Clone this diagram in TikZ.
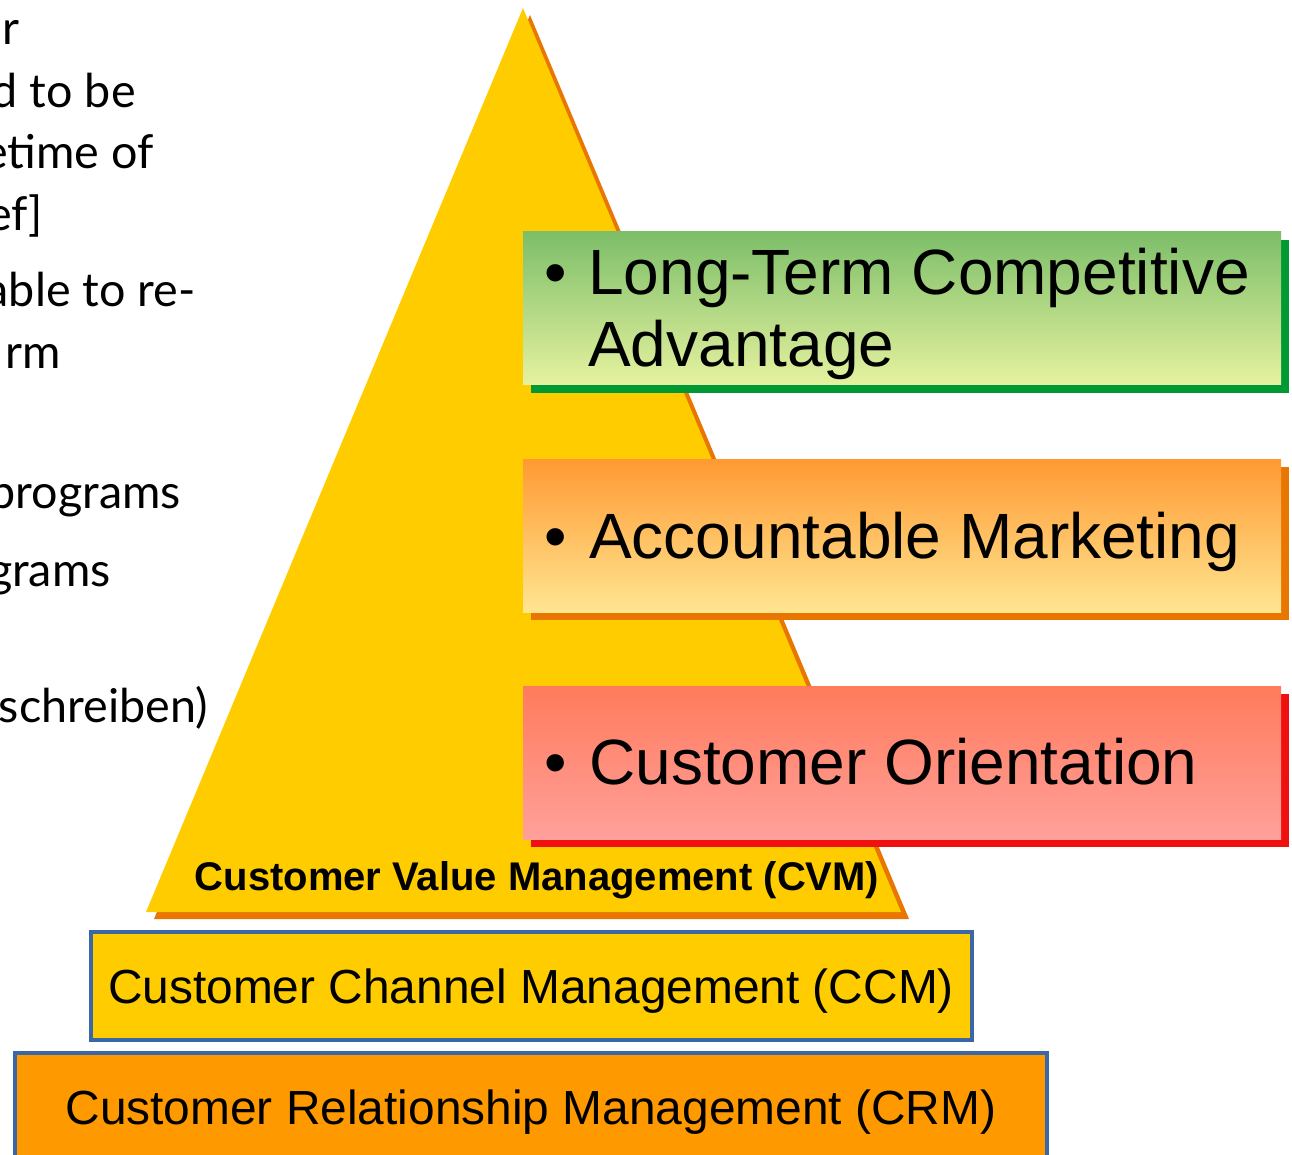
\documentclass[tikz,border=0pt]{standalone}
\usepackage{fontspec}
\setmainfont{Liberation Sans}
\newfontfamily\latofont{Lato}
\definecolor{cvmyellow}{HTML}{FFCC00}
\definecolor{cvmshadow}{HTML}{E87600}
\definecolor{gtop}{HTML}{7DBE69}
\definecolor{gbot}{HTML}{E6F2A0}
\definecolor{gshadow}{HTML}{009933}
\definecolor{otop}{HTML}{FF9933}
\definecolor{obot}{HTML}{FFE691}
\definecolor{oshadow}{HTML}{E87600}
\definecolor{rtop}{HTML}{FF7B5C}
\definecolor{rbot}{HTML}{FFA09B}
\definecolor{rshadow}{HTML}{F01010}
\definecolor{crmorange}{HTML}{FF9900}
\definecolor{bordblue}{HTML}{3B67A7}
\begin{document}
\begin{tikzpicture}[x=0.75pt,y=-0.75pt,
  panel/.style={minimum width=758*0.75pt, minimum height=153*0.75pt, inner sep=0pt, outer sep=0pt, anchor=north west},
  bigtxt/.style={font=\fontsize{48pt}{54pt}\selectfont, inner sep=0pt, anchor=base west},
  layertxt/.style={font=\fontsize{35.9pt}{42pt}\selectfont, inner sep=0pt, anchor=base},
  lefttxt/.style={font=\latofont\fontsize{35pt}{41pt}\selectfont, inner sep=0pt, anchor=base east},
  layerbox/.style={draw=bordblue, line width=2.4pt, inner sep=0pt, outer sep=0pt, anchor=north west}]
\useasboundingbox (0,0) rectangle (1292,1155);
\clip (0,0) rectangle (1292,1155);
\fill[white] (0,0) rectangle (1292,1155);

% left text fragments
\node[lefttxt] (l1) at (20,45) {r};
\node[lefttxt] (l2) at (136,108) {d to be};
\node[lefttxt] (l3) at (154,169) {etime of};
\node[lefttxt] (l4) at (43,231) {ef]};
\node[lefttxt] (l5) at (196,307) {able to re-};
\node[lefttxt] (l6) at (61,369) {rm};
\node[lefttxt] (l7) at (181,508) {programs};
\node[lefttxt] (l8) at (111,586) {grams};
\node[lefttxt] (l9) at (208,722) {schreiben)};

% pyramid
\fill[cvmshadow] (530,15) -- (154,919) -- (909,919) -- cycle;
\fill[cvmyellow] (523,8) -- (146,912) -- (901,912) -- cycle;
\node[font=\bfseries\fontsize{30pt}{36pt}\selectfont, inner sep=0pt, anchor=base] (cvm) at (537,890) {Customer Value Management (CVM)};

% green panel
\fill[gshadow] (531,240) rectangle (1289,393);
\node[panel, top color=gtop, bottom color=gbot] (gbox) at (523,232) {};
\node[bigtxt] (gbul) at (544,295) {•};
\node[bigtxt] (gt1) at (588,295) {Long-Term Competitive};
\node[bigtxt] (gt2) at (588,367) {Advantage};

% orange panel
\fill[oshadow] (531,467) rectangle (1289,620);
\node[panel, top color=otop, bottom color=obot] (obox) at (523,459) {};
\node[bigtxt] (obul) at (544,558) {•};
\node[bigtxt] (ot) at (589,558) {Accountable Marketing};

% red panel
\fill[rshadow] (531,694) rectangle (1289,847);
\node[panel, top color=rtop, bottom color=rbot] (rbox) at (523,686) {};
\node[bigtxt] (rbul) at (544,784) {•};
\node[bigtxt] (rt) at (589,784) {Customer Orientation};

% CCM
\node[layerbox, fill=cvmyellow, minimum width=881*0.75pt, minimum height=108*0.75pt] (ccm) at (91,932) {};
\node[layertxt] (ccmt) at (531,1003) {Customer Channel Management (CCM)};

% CRM
\node[layerbox, fill=crmorange, minimum width=1032*0.75pt, minimum height=130*0.75pt] (crm) at (15,1053) {};
\node[layertxt] (crmt) at (531,1124) {Customer Relationship Management (CRM)};
\end{tikzpicture}
\end{document}
